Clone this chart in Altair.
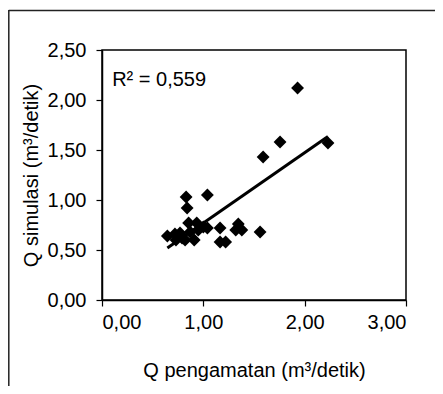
import altair as alt
import pandas as pd

q_obs = [0.645, 0.72, 0.73, 0.77, 0.79, 0.82, 0.83, 0.84, 0.855, 0.87, 0.91, 0.935, 0.95,
         1.00, 1.04, 1.04, 1.165, 1.165, 1.22, 1.32, 1.345, 1.38, 1.56, 1.59, 1.757, 1.93, 2.23]
q_sim = [0.64, 0.66, 0.60, 0.67, 0.62, 0.60, 1.03, 0.92, 0.77, 0.68, 0.60, 0.77, 0.70,
         0.73, 0.72, 1.05, 0.72, 0.58, 0.58, 0.70, 0.76, 0.70, 0.68, 1.43, 1.58, 2.12, 1.57]
r2_label = ["R² = 0,559"]

df = pd.DataFrame({"obs": q_obs, "sim": q_sim})
FONT = "Liberation Sans"
fmt = "replace(format(datum.value, '.2f'), '.', ',')"

xs = alt.Scale(domain=[0, 3], nice=False)
ys = alt.Scale(domain=[0, 2.5], nice=False)

base = alt.Chart(df)

pts = base.mark_point(shape="diamond", filled=True, color="black", size=165, opacity=1).encode(
    x=alt.X("obs:Q", scale=xs,
            axis=alt.Axis(title="Q pengamatan (m³/detik)", values=[0, 1, 2, 3], labelExpr=fmt,
                          grid=False, tickSize=6, labelPadding=6, titlePadding=28)),
    y=alt.Y("sim:Q", scale=ys,
            axis=alt.Axis(title="Q simulasi (m³/detik)", values=[0, 0.5, 1, 1.5, 2, 2.5],
                          labelExpr=fmt, grid=False, tickSize=6, labelPadding=10, titlePadding=6)),
)

trend = base.transform_regression("obs", "sim").mark_line(color="black", strokeWidth=3).encode(
    x=alt.X("obs:Q", scale=xs), y=alt.Y("sim:Q", scale=ys))

r2 = alt.Chart(pd.DataFrame({"t": r2_label})).mark_text(
    align="left", baseline="alphabetic", font=FONT, fontSize=20, color="black").encode(
    text="t:N", x=alt.datum(0.1, scale=xs), y=alt.datum(2.14, scale=ys))

frame_left = alt.Chart(pd.DataFrame({"t": r2_label})).mark_rule(color="#222", strokeWidth=1.5).encode(
    x=alt.value(-93.2), y=alt.value(-40), y2=alt.value(340))
frame_top = alt.Chart(pd.DataFrame({"t": r2_label})).mark_rule(color="#222", strokeWidth=1.5).encode(
    x=alt.value(-93.2), x2=alt.value(340), y=alt.value(-39.5))

chart = alt.layer(frame_left, frame_top, pts, trend, r2).properties(
    width=304, height=250,
    autosize=alt.AutoSizeParams(type="none"),
    padding={"left": 94, "top": 42, "right": 29, "bottom": 86},
).configure_view(stroke="black", strokeWidth=1.5).configure_axis(
    labelFont=FONT, titleFont=FONT, labelFontSize=20, titleFontSize=20,
    labelColor="black", titleColor="black", titleFontWeight="normal",
    domainColor="black", tickColor="black", domainWidth=1.5, tickWidth=1.2,
)

chart.save("out.html", embed_options={"renderer": "svg", "actions": False})
